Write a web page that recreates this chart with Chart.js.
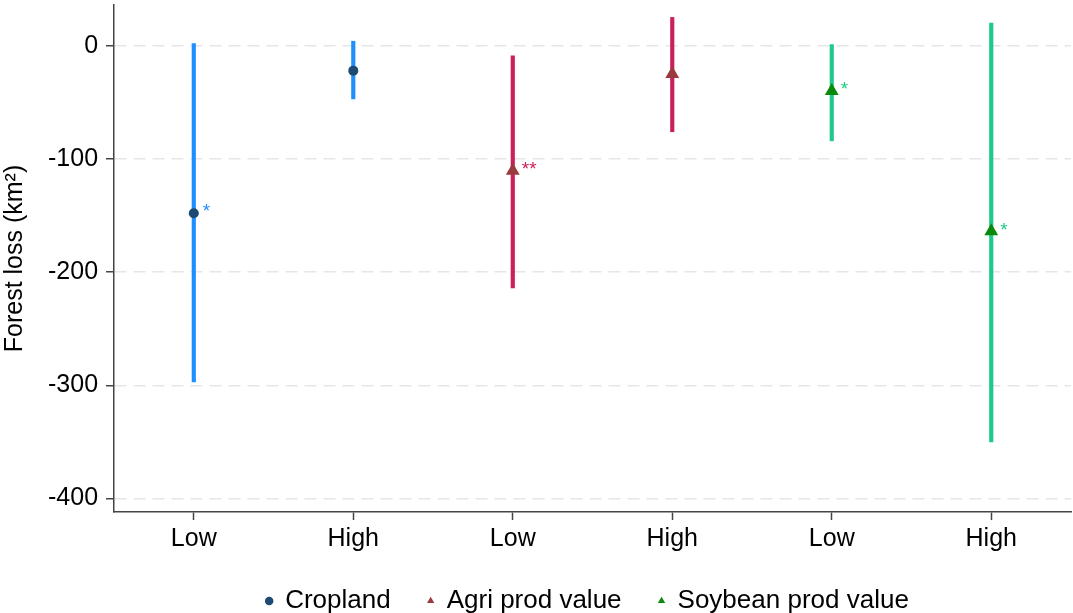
<!DOCTYPE html>
<html>
<head>
<meta charset="utf-8">
<script src="https://cdn.jsdelivr.net/npm/chart.js@4"></script>
<style>
  html, body { margin: 0; padding: 0; background: #fff; overflow: hidden; }
  canvas { display: block; }
</style>
</head>
<body>
<canvas id="grafik" width="1073" height="613"></canvas>
<script>
const labels = ['Low', 'High', 'Low', 'High', 'Low', 'High'];
const series = ['Cropland', 'Agri prod value', 'Soybean prod value'];
const seriesOf = [0, 0, 1, 1, 2, 2];
const estimate = [-148, -22, -110.5, -25, -40, -164];
const ciLow = [-297, -47, -214, -76, -84, -350];
const ciHigh = [2, 4, -9, 25, 1, 20];
const stars = ['*', '', '**', '', '*', '*'];
const yTicks = [0, -100, -200, -300, -400];

const lineColors = ['#1f8fff', '#c9215a', '#1fc98a'];
const markerColors = ['#1c4a73', '#9a3b40', '#0a8a0a'];
const markerStyles = ['circle', 'triangle', 'triangle'];
const markerSizes = [5, 8, 8];

let datasets = [];
// garis interval
series.forEach((s, k) => {
    datasets.push({
        type: 'bar',
        label: s + ' CI',
        data: labels.map((l, i) => seriesOf[i] === k ? [ciLow[i], ciHigh[i]] : null),
        backgroundColor: lineColors[k],
        borderWidth: 0,
        barThickness: 3.5,
        grouped: false,
        order: 2
    });
});
// titik estimasi
series.forEach((s, k) => {
    datasets.push({
        type: 'line',
        label: s,
        data: labels.map((l, i) => seriesOf[i] === k ? estimate[i] : null),
        showLine: false,
        pointStyle: markerStyles[k],
        pointRadius: markerSizes[k],
        pointHoverRadius: markerSizes[k],
        backgroundColor: markerColors[k],
        borderColor: markerColors[k],
        pointBackgroundColor: markerColors[k],
        pointBorderColor: markerColors[k],
        pointBorderWidth: 0,
        order: 1,
        isPoint: true
    });
});

const starPlugin = {
    id: 'stars',
    afterDatasetsDraw(chart) {
        const ctx = chart.ctx;
        ctx.save();
        ctx.font = '19px "Liberation Sans", Arial, sans-serif';
        ctx.textBaseline = 'middle';
        ctx.textAlign = 'left';
        labels.forEach((l, i) => {
            if (!stars[i]) return;
            const k = seriesOf[i];
            const meta = chart.getDatasetMeta(3 + k);
            const p = meta.data[i];
            ctx.fillStyle = lineColors[k];
            ctx.fillText(stars[i], p.x + 9, p.y - 1);
        });
        ctx.restore();
    }
};

// legenda digeser: sedikit ke atas dan ke kanan (tengah area plot)
const legendShift = {
    id: 'legendShift',
    afterLayout(chart) {
        if (chart.legend) {
            chart.legend.top -= 7;
            chart.legend.bottom -= 7;
            chart.legend.left += 52;
            chart.legend.right += 52;
        }
    }
};

Chart.defaults.font.family = '"Liberation Sans", Arial, sans-serif';
Chart.defaults.color = '#000';

let grafik = new Chart(document.getElementById('grafik'), {
    type: 'bar',
    data: { labels: labels, datasets: datasets },
    options: {
        responsive: false,
        animation: false,
        layout: { autoPadding: false, padding: { top: 5, right: 2, left: 0, bottom: -18 } },
        plugins: {
            tooltip: { enabled: false },
            legend: {
                position: 'bottom',
                labels: {
                    filter: (item, data) => data.datasets[item.datasetIndex].isPoint,
                    usePointStyle: true,
                    boxWidth: 6,
                    boxHeight: 6,
                    padding: 37,
                    font: { size: 26 },
                    color: '#000'
                }
            }
        },
        scales: {
            x: {
                offset: true,
                afterFit: (s) => { s.paddingLeft = 0; s.paddingRight = 0; },
                grid: {
                    offset: false,
                    drawOnChartArea: false,
                    drawTicks: true,
                    tickLength: 8,
                    tickColor: '#444',
                    tickWidth: 1.5
                },
                border: { color: '#444', width: 1.5 },
                ticks: { font: { size: 25 }, color: '#000', padding: 4 }
            },
            y: {
                min: -412,
                max: 36,
                afterBuildTicks: (axis) => { axis.ticks = yTicks.map(v => ({ value: v })); },
                afterFit: (s) => { s.paddingTop = 0; s.paddingBottom = 0; },
                grid: {
                    color: '#e6e6e6',
                    lineWidth: 1.5,
                    tickLength: 8,
                    tickColor: '#444',
                    tickBorderDash: [],
                    tickWidth: 1.5
                },
                border: { color: '#444', width: 1.5, dash: [12, 7] },
                ticks: { font: { size: 25 }, color: '#000', padding: 8 },
                title: {
                    display: true,
                    text: 'Forest loss (km²)',
                    font: { size: 25 },
                    color: '#000',
                    padding: { top: 0, bottom: 10 }
                }
            }
        }
    },
    plugins: [starPlugin, legendShift]
});
</script>
</body>
</html>
